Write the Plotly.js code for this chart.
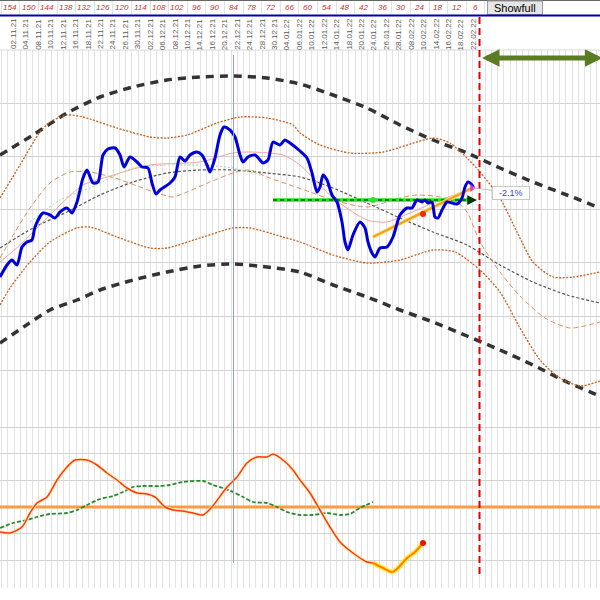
<!DOCTYPE html>
<html><head><meta charset="utf-8">
<script src="https://cdn.plot.ly/plotly-3.0.1.min.js"></script>
<style>html,body{margin:0;padding:0;background:#fff}#chart{width:600px;height:600px}</style>
</head><body><div id="chart"></div>
<script>
// ---- header labels ----
const counterLabels = ['154','150','144','138','132','126','120','114','108','102','96','90','84','78','72','66','60','54','48','42','36','30','24','18','12','6'];
const dateLabels = ['02.11.21','04.11.21','08.11.21','10.11.21','12.11.21','16.11.21','18.11.21','22.11.21','24.11.21','26.11.21','30.11.21','02.12.21','06.12.21','08.12.21','10.12.21','14.12.21','16.12.21','20.12.21','22.12.21','24.12.21','28.12.21','30.12.21','04.01.22','06.01.22','10.01.22','12.01.22','14.01.22','18.01.22','20.01.22','24.01.22','26.01.22','28.01.22','08.02.22','10.02.22','14.02.22','16.02.22','18.02.22','22.02.22'];

// ---- price (blue) ----
const priceX = [0,7,12,17,22,27,32,35,43,50,55,60,67,72,77,83,87,93,98,103,108,115,120,124,130,137,142,148,152,156,160,170,175,180,185,190,197,202,207,210,215,220,224,230,235,240,243,248,255,260,263,268,273,280,285,290,300,307,312,317,320,323,327,332,337,342,345,348,353,360,365,368,372,375,380,387,393,400,407,412,417,422,425,428,432,435,438,442,447,452,457,462,465,468,472,474];
const priceY = [323,335,340,335,353,358,360,373,387,385,382,388,392,387,398,422,430,417,418,445,451,452,445,433,443,438,433,432,417,406,410,417,423,443,439,445,448,445,435,428,442,465,473,470,463,445,438,443,445,440,437,440,458,455,460,457,449,442,427,408,413,425,420,405,398,378,358,350,365,378,372,358,347,343,352,353,363,385,392,392,400,398,400,397,398,383,382,390,398,397,396,402,413,418,415,411];

// ---- big black dashed channel ----
const outerX = [0,33,67,100,133,167,200,233,267,300,333,367,400,433,467,500,533,567,600];
const outerUpY = [445,465,487,503,513,520,523,524,522,516,505,492,475,460,447,432,418,405,392];
const outerLoX = [0,25,50,77,100,133,167,200,233,267,300,333,367,400,433,467,500,533,567,600];
const outerLoY = [257,274,290,300,310,320,328,334,336,333,328,315,303,290,278,264,250,235,218,204];

// ---- orange dotted bands ----
const bandUpX = [0,20,40,50,67,83,117,150,167,187,217,240,267,293,300,320,350,383,417,433,450,467,480,500,517,533,553,573,600];
const bandUpY = [402,435,468,478,485,483,472,463,462,465,477,483,482,475,467,455,447,448,458,462,457,442,428,402,368,338,323,323,328];
const bandLoX = [0,10,30,50,77,90,117,150,167,200,233,250,283,300,333,367,400,433,455,480,500,520,540,560,580,600];
const bandLoY = [295,312,338,358,372,373,363,352,352,362,372,372,363,358,345,337,340,350,348,330,308,272,240,222,214,219];

// ---- central regression (grey dotted) ----
const midX = [0,33,67,100,133,167,200,233,267,300,333,367,400,433,467,500,533,567,600];
const midY = [352,372,388,405,418,427,430,430,427,423,412,397,382,368,355,335,318,305,297];

// ---- thin inner dashed (peach) ----
const innerX = [0,15,30,50,70,90,115,140,157,173,187,210,233,250,267,290,310,333,367,400,417,440,457,467,480,500,520,545,570,600];
const innerY = [342,368,392,417,428,428,422,413,407,403,408,418,427,430,423,415,408,400,393,402,405,403,398,388,358,328,304,282,272,278];

// ---- pink and pale green averages ----
const pinkX = [0,20,40,60,83,107,150,200,233,250,283,300,333,367,387,410,440,470];
const pinkY = [338,355,375,395,415,423,435,438,447,448,445,435,402,380,378,387,400,410];
const paleX = [30,60,90,133,200,233,260];
const paleY = [378,400,412,432,435,432,425];

// ---- level line, trend line ----
const levelX = [273,470];
const levelY = [400,400];
const levelDotX = [373], levelDotY = [400];
const trendX = [373,472];
const trendY = [363,412];
const trendDotX = [423], trendDotY = [386];
const lastX = [472], lastY = [412];

// ---- oscillator ----
const oscZeroX = [0,600], oscZeroY = [93,93];
const oscRedX = [0,10,22,30,37,47,57,67,75,87,97,107,117,127,137,147,155,165,173,183,193,203,212,227,237,247,257,267,273,283,293,300,310,320,330,340,353,367,373];
const oscRedY = [68,67,73,87,97,103,120,133,140,140,135,127,120,112,107,106,103,93,90,89,87,85,93,113,123,137,143,143,146,140,130,120,107,90,73,58,47,38,37];
const oscTailX = [373,383,392,398,407,415,423];
const oscTailY = [37,32,28,32,42,48,57];
const oscGreenX = [0,13,27,37,50,67,77,87,100,113,123,133,143,160,170,183,203,213,223,233,243,253,267,277,287,300,313,327,340,350,360,373];
const oscGreenY = [72,77,80,83,86,87,90,95,101,104,108,113,114,114,115,118,119,115,112,108,103,98,97,93,88,85,85,87,85,86,92,98];

const gridLevels = [497,444,391,338,284,230,173,147,120,93,67,40,13];

// ---- layout helpers ----
const H = 588; // plot-area height in px (b margin 12)
const pp = py => (H - py) / H; // pixel row -> paper y

function ln(x, y, color, width, dash, shape) {
  return {x: x, y: y, type: 'scatter', mode: 'lines', hoverinfo: 'skip',
    line: {color: color, width: width, dash: dash || 'solid', shape: shape || 'spline', smoothing: 0.7}};
}

const traces = [
  ln(outerX, outerUpY, '#333333', 3.5, '8px,6px'),
  ln(outerLoX, outerLoY, '#333333', 3.5, '8px,6px'),
  ln(bandUpX, bandUpY, '#c4601c', 1.3, '2px,1.5px'),
  ln(bandLoX, bandLoY, '#c4601c', 1.3, '2px,1.5px'),
  ln(midX, midY, '#555555', 1.2, '3px,2px'),
  ln(innerX, innerY, '#d9905a', 1, '5px,3px'),
  ln(pinkX, pinkY, '#f2a5a5', 1, 'solid'),
  ln(paleX, paleY, '#9fdc9f', 1, '2px,2px'),
  ln(levelX, levelY, '#22e622', 3.5, 'solid', 'linear'),
  ln(levelX, levelY, '#006400', 1.5, '4px,3px', 'linear'),
  ln(trendX, trendY, '#ffe27a', 4, 'solid', 'linear'),
  ln(trendX, trendY, '#f0a020', 2, 'solid', 'linear'),
  ln(priceX, priceY, '#0000dd', 3, 'solid'),
  {x: levelDotX, y: levelDotY, type: 'scatter', mode: 'markers', hoverinfo: 'skip', marker: {color: '#33dd33', size: 6}},
  {x: trendDotX, y: trendDotY, type: 'scatter', mode: 'markers', hoverinfo: 'skip', marker: {color: '#ff2200', size: 6}},
  {x: lastX, y: lastY, type: 'scatter', mode: 'markers', hoverinfo: 'skip', marker: {color: '#dd33dd', size: 7, symbol: 'triangle-right'}},
  ln(oscZeroX, oscZeroY, '#ff9a40', 3, 'solid', 'linear'),
  ln(oscGreenX, oscGreenY, '#2a8a2a', 1.8, '4px,2px'),
  ln(oscRedX, oscRedY, 'rgba(255,240,150,0.8)', 3.5),
  ln(oscRedX, oscRedY, '#ff3322', 1.5),
  ln(oscTailX, oscTailY, 'rgba(255,235,60,0.95)', 5),
  ln(oscTailX, oscTailY, '#ff7f00', 2),
  {x: [oscTailX[oscTailX.length-1]], y: [oscTailY[oscTailY.length-1]], type: 'scatter', mode: 'markers', hoverinfo: 'skip', marker: {color: '#ee1100', size: 6}}
];

const shapes = [];
const annotations = [];
// header: top border
shapes.push({type: 'line', xref: 'paper', yref: 'paper', x0: 0, x1: 1, y0: pp(0.5), y1: pp(0.5), line: {color: '#666', width: 1}});
// counter cell separators
for (let i = 0; i <= counterLabels.length; i++) {
  const xs = Math.round(10 + 18.6 * i - 9.3) + 0.5;
  shapes.push({type: 'line', xref: 'x', yref: 'paper', x0: xs, x1: xs, y0: pp(1), y1: pp(14), line: {color: '#e2e2e2', width: 1}});
}
counterLabels.forEach((t, i) => {
  annotations.push({xref: 'x', yref: 'paper', x: 10 + 18.6 * i, y: pp(7.5), text: '<i>' + t + '</i>', showarrow: false,
    font: {family: 'Liberation Sans, Arial, sans-serif', size: 8, color: '#c83232'}, xanchor: 'center', yanchor: 'middle'});
});
// date labels
dateLabels.forEach((t, i) => {
  annotations.push({xref: 'x', yref: 'paper', x: 14 + 12.43 * i, y: pp(34), text: t, showarrow: false, textangle: -90,
    font: {family: 'Liberation Sans, Arial, sans-serif', size: 8, color: '#5a5a5a'}, xanchor: 'center', yanchor: 'middle'});
});
// header bottom line
shapes.push({type: 'line', xref: 'paper', yref: 'paper', x0: 0, x1: 1, y0: pp(50), y1: pp(50), line: {color: '#d8d8d8', width: 1}});
// Showfull button
shapes.push({type: 'rect', xref: 'x', yref: 'paper', x0: 487.5, x1: 542.5, y0: pp(1), y1: pp(14.5), fillcolor: '#e6e6e6', line: {color: '#9a9a9a', width: 1}});
annotations.push({xref: 'x', yref: 'paper', x: 515, y: pp(8), text: 'Showfull', showarrow: false,
  font: {family: 'Liberation Sans, Arial, sans-serif', size: 11, color: '#000'}, xanchor: 'center', yanchor: 'middle'});
// blue header line
shapes.push({type: 'line', xref: 'paper', yref: 'paper', x0: 0, x1: 1, y0: pp(15.5), y1: pp(15.5), line: {color: '#0000aa', width: 2.2}});
// red dashed "now" line
shapes.push({type: 'line', xref: 'x', yref: 'paper', x0: 479.5, x1: 479.5, y0: pp(17), y1: pp(577), line: {color: '#e00000', width: 2, dash: '7px,4px'}});
// thin blue vertical
shapes.push({type: 'line', xref: 'x', yref: 'y', x0: 233.5, x1: 233.5, y0: 545, y1: 37, line: {color: '#8ea3d2', width: 1}});
// olive double arrow
annotations.push({xref: 'x', yref: 'y', axref: 'x', ayref: 'y', x: 482, y: 542, ax: 604, ay: 542, text: '', showarrow: true,
  arrowhead: 2, arrowside: 'end+start', arrowsize: 0.7, arrowwidth: 5, arrowcolor: '#5b7c22'});
// green level arrow head
annotations.push({xref: 'x', yref: 'y', axref: 'x', ayref: 'y', x: 477, y: 400, ax: 466, ay: 400, text: '', showarrow: true,
  arrowhead: 2, arrowsize: 1.3, arrowwidth: 1.5, arrowcolor: '#003300'});
// -2.1% label
annotations.push({xref: 'x', yref: 'y', axref: 'x', ayref: 'y', x: 473, y: 412, ax: 511, ay: 407.5, text: '&nbsp;&nbsp;-2.1%&nbsp;&nbsp;', showarrow: true,
  arrowhead: 0, arrowwidth: 1, arrowcolor: '#c0c0c0', bgcolor: '#ffffff', bordercolor: '#c8c8c8', borderwidth: 1, borderpad: 1,
  font: {family: 'Liberation Sans, Arial, sans-serif', size: 9, color: '#3a3ad0'}});

const layout = {
  width: 600, height: 600,
  margin: {l: 0, r: 0, t: 0, b: 12, pad: 0},
  paper_bgcolor: '#ffffff', plot_bgcolor: '#ffffff',
  showlegend: false,
  xaxis: {range: [0, 600], showgrid: true, gridcolor: '#e3e3e3', gridwidth: 1, tick0: 1.6, dtick: 6.2,
    showticklabels: false, ticks: '', zeroline: false, showline: false, fixedrange: true},
  yaxis: {range: [12, 550], domain: [0, (H - 50) / H], showgrid: true, gridcolor: '#d2d2d2', gridwidth: 1,
    tickmode: 'array', tickvals: gridLevels, showticklabels: false, ticks: '', zeroline: false, showline: false, fixedrange: true},
  shapes: shapes,
  annotations: annotations
};

Plotly.newPlot('chart', traces, layout, {staticPlot: true, displayModeBar: false});
</script>
</body></html>
